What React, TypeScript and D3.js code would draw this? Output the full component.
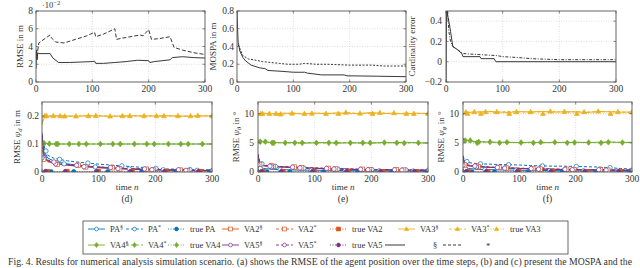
import React from "react";
import * as d3 from "d3";

const xTicks = [0, 100, 200, 300];

// (a) RMSE of the agent position (values in m)
const aSolidT = [0, 1, 2, 3, 5, 25, 30, 40, 60, 80, 100, 104, 106, 120, 140, 160, 180, 200, 202, 210, 238, 242, 260, 280, 300];
const aSolidV = [0.015, 0.036, 0.025, 0.033, 0.032, 0.032, 0.027, 0.022, 0.022, 0.0225, 0.023, 0.0235, 0.021, 0.021, 0.022, 0.023, 0.0245, 0.024, 0.022, 0.023, 0.025, 0.0275, 0.0285, 0.0275, 0.027];
const aDashT = [3, 5, 25, 27, 35, 50, 70, 90, 104, 106, 120, 140, 143, 150, 185, 190, 200, 205, 220, 238, 245, 260, 280, 300];
const aDashV = [0.035, 0.044, 0.053, 0.05, 0.045, 0.044, 0.048, 0.052, 0.056, 0.051, 0.054, 0.06, 0.048, 0.049, 0.053, 0.052, 0.059, 0.048, 0.049, 0.051, 0.039, 0.036, 0.033, 0.031];
const aYTicks = [0, 0.02, 0.04, 0.06, 0.08];

// (b) MOSPA
const bSolidT = [0, 1, 2, 3, 5, 10, 15, 25, 40, 50, 55, 80, 100, 120, 125, 150, 190, 195, 250, 300];
const bSolidV = [0.8, 0.6, 0.45, 0.42, 0.35, 0.28, 0.24, 0.19, 0.16, 0.15, 0.13, 0.12, 0.11, 0.11, 0.1, 0.08, 0.08, 0.07, 0.065, 0.06];
const bDashT = [2, 5, 10, 20, 30, 45, 60, 75, 90, 110, 120, 140, 160, 200, 240, 260, 300];
const bDashV = [0.42, 0.38, 0.3, 0.26, 0.25, 0.23, 0.22, 0.21, 0.2, 0.2, 0.21, 0.2, 0.2, 0.19, 0.19, 0.18, 0.18];
const bYTicks = [0, 0.2, 0.4, 0.6, 0.8];

// (c) cardinality error
const cSolidT = [0, 1, 2, 3, 5, 8, 12, 20, 28, 30, 60, 62, 70, 85, 88, 300];
const cSolidV = [-0.2, 0.5, 0.5, 0.45, 0.4, 0.3, 0.15, 0.12, 0.08, 0.05, 0.05, 0.03, 0.03, 0.03, 0, 0];
const cDashT = [3, 5, 8, 12, 20, 30, 60, 90, 100, 130, 150, 200, 250, 300];
const cDashV = [0.5, 0.3, 0.2, 0.15, 0.12, 0.08, 0.07, 0.06, 0.05, 0.04, 0.03, 0.02, 0.02, 0.02];
const cYTicks = [-0.2, 0, 0.2, 0.4];

// shared time grid for (d)-(f)
const T = [0, 3, 6, 10, 20, 30, 45, 60, 80, 100, 120, 140, 160, 180, 200, 220, 240, 260, 280, 300];

// (d) RMSE psi_d in m
const dPAs = [0.12, 0.09, 0.065, 0.05, 0.04, 0.034, 0.029, 0.025, 0.021, 0.018, 0.015, 0.013, 0.011, 0.01, 0.009, 0.008, 0.007, 0.006, 0.006, 0.005];
const dPAa = [0.13, 0.1, 0.075, 0.06, 0.05, 0.045, 0.04, 0.036, 0.032, 0.028, 0.025, 0.022, 0.019, 0.016, 0.013, 0.011, 0.01, 0.009, 0.008, 0.008];
const dPAt = [0.003, 0.002, 0.001, 0.001, 0.001, 0.001, 0.001, 0.001, 0.001, 0.001, 0.001, 0.001, 0.001, 0.001, 0.001, 0.001, 0.001, 0.001, 0.001, 0.001];
const dVA2s = [0.08, 0.06, 0.045, 0.037, 0.031, 0.027, 0.024, 0.021, 0.018, 0.015, 0.013, 0.011, 0.009, 0.008, 0.007, 0.006, 0.006, 0.005, 0.005, 0.004];
const dVA2a = [0.09, 0.065, 0.05, 0.04, 0.034, 0.03, 0.027, 0.024, 0.02, 0.017, 0.015, 0.013, 0.011, 0.01, 0.009, 0.008, 0.007, 0.006, 0.006, 0.005];
const dVA2t = [0.01, 0.005, 0.003, 0.002, 0.002, 0.002, 0.002, 0.002, 0.002, 0.002, 0.002, 0.002, 0.002, 0.002, 0.002, 0.002, 0.002, 0.002, 0.002, 0.002];
const dVA3s = [0.17, 0.19, 0.196, 0.199, 0.2, 0.201, 0.2, 0.199, 0.201, 0.2, 0.199, 0.2, 0.201, 0.2, 0.2, 0.201, 0.2, 0.199, 0.2, 0.2];
const dVA3a = [0.18, 0.195, 0.198, 0.2, 0.201, 0.2, 0.199, 0.2, 0.2, 0.201, 0.2, 0.199, 0.2, 0.201, 0.2, 0.2, 0.199, 0.2, 0.201, 0.2];
const dVA3t = [0.2, 0.2, 0.2, 0.2, 0.2, 0.2, 0.2, 0.2, 0.2, 0.2, 0.2, 0.2, 0.2, 0.2, 0.2, 0.2, 0.2, 0.2, 0.2, 0.2];
const dVA4s = [0.11, 0.108, 0.104, 0.101, 0.1, 0.1, 0.1, 0.1, 0.1, 0.1, 0.1, 0.1, 0.1, 0.1, 0.1, 0.1, 0.1, 0.1, 0.1, 0.1];
const dVA4a = [0.105, 0.104, 0.102, 0.1, 0.1, 0.1, 0.1, 0.1, 0.1, 0.1, 0.1, 0.1, 0.1, 0.1, 0.1, 0.1, 0.1, 0.1, 0.1, 0.1];
const dVA4t = [0.1, 0.1, 0.1, 0.1, 0.1, 0.1, 0.1, 0.1, 0.1, 0.1, 0.1, 0.1, 0.1, 0.1, 0.1, 0.1, 0.1, 0.1, 0.1, 0.1];
const dVA5s = [0.14, 0.07, 0.05, 0.04, 0.033, 0.029, 0.025, 0.022, 0.019, 0.016, 0.014, 0.012, 0.01, 0.009, 0.008, 0.007, 0.006, 0.006, 0.005, 0.005];
const dVA5a = [0.13, 0.075, 0.055, 0.043, 0.036, 0.031, 0.027, 0.024, 0.021, 0.018, 0.016, 0.014, 0.012, 0.011, 0.01, 0.009, 0.008, 0.007, 0.006, 0.006];
const dVA5t = [0.004, 0.002, 0.001, 0.001, 0.001, 0.001, 0.001, 0.001, 0.001, 0.001, 0.001, 0.001, 0.001, 0.001, 0.001, 0.001, 0.001, 0.001, 0.001, 0.001];
const dYTicks = [0, 0.1, 0.2];

// (e) RMSE psi_theta in deg
const ePAs = [2.5, 1.2, 0.8, 0.6, 0.5, 0.45, 0.4, 0.35, 0.32, 0.3, 0.28, 0.26, 0.24, 0.22, 0.2, 0.2, 0.18, 0.17, 0.16, 0.15];
const ePAa = [3.0, 1.8, 1.4, 1.2, 1.05, 0.95, 0.85, 0.75, 0.65, 0.6, 0.55, 0.5, 0.47, 0.44, 0.42, 0.4, 0.38, 0.36, 0.35, 0.33];
const ePAt = [0.2, 0.1, 0.05, 0.03, 0.02, 0.02, 0.02, 0.02, 0.02, 0.02, 0.02, 0.02, 0.02, 0.02, 0.02, 0.02, 0.02, 0.02, 0.02, 0.02];
const eVA2s = [2.8, 1.6, 1.3, 1.1, 1.0, 0.95, 0.88, 0.8, 0.72, 0.65, 0.58, 0.52, 0.47, 0.42, 0.4, 0.37, 0.35, 0.33, 0.31, 0.3];
const eVA2a = [3.0, 1.7, 1.4, 1.2, 1.05, 1.0, 0.92, 0.85, 0.77, 0.7, 0.63, 0.57, 0.52, 0.47, 0.44, 0.41, 0.39, 0.37, 0.35, 0.34];
const eVA2t = [0.3, 0.15, 0.1, 0.08, 0.06, 0.05, 0.05, 0.05, 0.05, 0.05, 0.05, 0.05, 0.05, 0.05, 0.05, 0.05, 0.05, 0.05, 0.05, 0.05];
const eVA3s = [9.8, 9.9, 10.0, 10.1, 10.0, 9.95, 10.1, 10.05, 9.95, 10.1, 10.0, 10.15, 10.0, 10.05, 10.2, 10.0, 10.1, 9.95, 10.1, 10.0];
const eVA3a = [9.9, 10.0, 10.05, 9.95, 10.1, 10.0, 9.9, 10.15, 10.0, 10.05, 10.1, 9.95, 10.2, 10.0, 10.05, 10.15, 9.95, 10.1, 10.0, 10.1];
const eVA3t = [10, 10, 10, 10, 10, 10, 10, 10, 10, 10, 10, 10, 10, 10, 10, 10, 10, 10, 10, 10];
const eVA4s = [5.5, 5.4, 5.3, 5.2, 5.1, 5.05, 5.0, 5.05, 4.95, 5.0, 5.05, 4.95, 5.0, 5.0, 4.95, 5.05, 5.0, 5.1, 5.0, 4.95];
const eVA4a = [5.3, 5.25, 5.2, 5.1, 5.05, 5.0, 5.05, 4.95, 5.0, 5.05, 4.95, 5.0, 5.05, 4.95, 5.0, 5.0, 5.05, 4.95, 5.05, 5.0];
const eVA4t = [5, 5, 5, 5, 5, 5, 5, 5, 5, 5, 5, 5, 5, 5, 5, 5, 5, 5, 5, 5];
const eVA5s = [2.9, 1.5, 1.25, 1.05, 0.95, 0.9, 0.84, 0.78, 0.7, 0.63, 0.57, 0.51, 0.46, 0.42, 0.39, 0.36, 0.34, 0.32, 0.3, 0.29];
const eVA5a = [3.1, 1.65, 1.35, 1.15, 1.0, 0.97, 0.9, 0.83, 0.75, 0.68, 0.62, 0.56, 0.51, 0.46, 0.43, 0.4, 0.38, 0.36, 0.34, 0.33];
const eVA5t = [0.2, 0.1, 0.06, 0.05, 0.04, 0.04, 0.04, 0.04, 0.04, 0.04, 0.04, 0.04, 0.04, 0.04, 0.04, 0.04, 0.04, 0.04, 0.04, 0.04];
const eYTicks = [0, 5, 10];

// (f) RMSE psi_phi in deg
const fPAs = [2.6, 1.0, 0.8, 0.6, 0.5, 0.45, 0.4, 0.37, 0.34, 0.3, 0.28, 0.26, 0.24, 0.22, 0.2, 0.2, 0.18, 0.17, 0.16, 0.15];
const fPAa = [2.8, 2.0, 1.8, 1.6, 1.5, 1.4, 1.35, 1.3, 1.25, 1.2, 1.1, 1.05, 1.0, 1.0, 0.95, 0.9, 0.85, 0.75, 0.6, 0.5];
const fPAt = [0.2, 0.1, 0.05, 0.03, 0.02, 0.02, 0.02, 0.02, 0.02, 0.02, 0.02, 0.02, 0.02, 0.02, 0.02, 0.02, 0.02, 0.02, 0.02, 0.02];
const fVA2s = [2.5, 1.4, 1.2, 1.1, 1.0, 0.9, 0.82, 0.75, 0.68, 0.6, 0.55, 0.5, 0.46, 0.43, 0.4, 0.37, 0.35, 0.33, 0.31, 0.3];
const fVA2a = [2.7, 1.5, 1.3, 1.2, 1.05, 0.95, 0.87, 0.8, 0.72, 0.65, 0.6, 0.55, 0.5, 0.47, 0.44, 0.41, 0.39, 0.37, 0.35, 0.34];
const fVA2t = [0.3, 0.15, 0.1, 0.08, 0.06, 0.05, 0.05, 0.05, 0.05, 0.05, 0.05, 0.05, 0.05, 0.05, 0.05, 0.05, 0.05, 0.05, 0.05, 0.05];
const fVA3s = [9.8, 10.0, 10.1, 10.2, 10.3, 10.25, 10.4, 10.3, 10.2, 10.35, 10.3, 10.4, 10.25, 10.35, 10.3, 10.2, 10.4, 10.3, 10.25, 10.3];
const fVA3a = [9.9, 10.1, 10.2, 10.25, 10.2, 10.35, 10.3, 10.2, 10.4, 10.3, 10.25, 10.3, 10.4, 10.2, 10.35, 10.3, 10.25, 10.4, 10.3, 10.2];
const fVA3t = [10, 10, 10, 10, 10, 10, 10, 10, 10, 10, 10, 10, 10, 10, 10, 10, 10, 10, 10, 10];
const fVA4s = [5.8, 5.6, 5.5, 5.4, 5.25, 5.2, 5.15, 5.1, 5.1, 5.05, 5.1, 5.0, 5.1, 5.05, 5.1, 5.05, 5.1, 5.15, 5.05, 5.1];
const fVA4a = [5.6, 5.5, 5.4, 5.3, 5.2, 5.15, 5.1, 5.05, 5.1, 5.0, 5.05, 5.1, 5.0, 5.1, 5.05, 5.1, 5.0, 5.1, 5.1, 5.05];
const fVA4t = [5, 5, 5, 5, 5, 5, 5, 5, 5, 5, 5, 5, 5, 5, 5, 5, 5, 5, 5, 5];
const fVA5s = [2.6, 1.3, 1.15, 1.05, 0.95, 0.88, 0.8, 0.73, 0.66, 0.6, 0.54, 0.49, 0.45, 0.42, 0.39, 0.36, 0.34, 0.32, 0.3, 0.29];
const fVA5a = [2.8, 1.45, 1.25, 1.15, 1.02, 0.93, 0.86, 0.78, 0.7, 0.64, 0.58, 0.53, 0.49, 0.46, 0.43, 0.4, 0.38, 0.36, 0.34, 0.33];
const fVA5t = [0.2, 0.1, 0.06, 0.05, 0.04, 0.04, 0.04, 0.04, 0.04, 0.04, 0.04, 0.04, 0.04, 0.04, 0.04, 0.04, 0.04, 0.04, 0.04, 0.04];
const fYTicks = [0, 5, 10];

const entities = ["PA", "VA2", "VA3", "VA4", "VA5"];
const variants = ["§", "*", "true"];
const COLORS: any = { PA: "#0072BD", VA2: "#D95319", VA3: "#EDB120", VA4: "#77AC30", VA5: "#7E2F8E" };
const SHAPES: any = { PA: "circle", VA2: "square", VA3: "triangle", VA4: "diamond", VA5: "circle" };
const DASH: any = { "§": null, "*": "3,2", true: "1,1.5" };

const FONT = "'Liberation Serif', 'DejaVu Serif', serif";
const INK = "#333";

function Marker({ shape, x, y, color, filled, r = 2.2 }: any) {
  const fill = filled ? color : "#fff";
  const common = { stroke: color, strokeWidth: 0.7, fill };
  if (shape === "circle") return <circle cx={x} cy={y} r={r} {...common} />;
  if (shape === "square") return <rect x={x - r} y={y - r} width={2 * r} height={2 * r} {...common} />;
  if (shape === "triangle")
    return <path d={`M${x},${y - r * 1.2}L${x + r * 1.1},${y + r * 0.8}L${x - r * 1.1},${y + r * 0.8}Z`} {...common} />;
  return <path d={`M${x},${y - r * 1.3}L${x + r},${y}L${x},${y + r * 1.3}L${x - r},${y}Z`} {...common} />;
}

function buildSeries(rows: any) {
  const out: any[] = [];
  entities.forEach((e, ei) => {
    variants.forEach((v, vi) => {
      out.push({
        t: T,
        v: rows[e][vi],
        color: COLORS[e],
        shape: SHAPES[e],
        dash: DASH[v],
        variant: v,
        phase: ei,
        opacity: v === "true" ? 0.55 : 1,
      });
    });
  });
  return out;
}

function Panel(props: any) {
  const { id, x0, x1, y0, y1, yDomain, yTicks, yFmt, lines, colored, ylabel, ylabelX, tickRight, xlabel, tag, exponent } = props;
  const x = d3.scaleLinear().domain([0, 300]).range([x0, x1]);
  const y = d3.scaleLinear().domain(yDomain).range([y1, y0]);
  const line = d3
    .line<[number, number]>()
    .x((d) => x(d[0]))
    .y((d) => y(d[1]));
  const cy = (y0 + y1) / 2;
  return (
    <g>
      <defs>
        <clipPath id={id}>
          <rect x={x0} y={y0} width={x1 - x0} height={y1 - y0} />
        </clipPath>
      </defs>
      <rect x={x0} y={y0} width={x1 - x0} height={y1 - y0} fill="#fff" />
      {xTicks.slice(1, -1).map((t) => (
        <line key={"gx" + t} x1={x(t)} x2={x(t)} y1={y0} y2={y1} stroke="#c8c8c8" strokeWidth={0.6} strokeDasharray="1,1.5" />
      ))}
      {yTicks
        .filter((t: number) => y(t) > y0 + 1 && y(t) < y1 - 1)
        .map((t: number) => (
          <line key={"gy" + t} x1={x0} x2={x1} y1={y(t)} y2={y(t)} stroke="#c8c8c8" strokeWidth={0.6} strokeDasharray="1,1.5" />
        ))}
      <g clipPath={`url(#${id})`}>
        {lines &&
          lines.map((s: any, i: number) => (
            <path
              key={"l" + i}
              d={line(s.t.map((t: number, k: number) => [t, s.v[k]]) as any) || ""}
              fill="none"
              stroke={s.color}
              strokeWidth={s.width || 0.9}
              strokeDasharray={s.dash || undefined}
            />
          ))}
        {colored &&
          colored.map((s: any, i: number) => (
            <path
              key={"c" + i}
              d={line(s.t.map((t: number, k: number) => [t, s.v[k]]) as any) || ""}
              fill="none"
              stroke={s.color}
              strokeOpacity={s.opacity}
              strokeWidth={s.variant === "true" ? 0.8 : 1}
              strokeDasharray={s.dash || undefined}
            />
          ))}
        {colored &&
          colored.map((s: any, i: number) =>
            s.t.map((t: number, k: number) => {
              const vi = variants.indexOf(s.variant);
              if (k < 2 || (k + vi + s.phase) % 3 !== 0) return null;
              return (
                <Marker
                  key={"m" + i + "-" + k}
                  shape={s.shape}
                  x={x(t + ((vi * 7 + s.phase * 3) % 12) - 6)}
                  y={y(s.v[k])}
                  color={s.color}
                  filled={s.variant === "true" || s.shape === "triangle" || s.shape === "diamond"}
                />
              );
            })
          )}
      </g>
      <rect x={x0} y={y0} width={x1 - x0} height={y1 - y0} fill="none" stroke="#555" strokeWidth={0.9} />
      {xTicks.map((t) => (
        <g key={"xt" + t}>
          <line x1={x(t)} x2={x(t)} y1={y1} y2={y1 - 2.5} stroke="#555" strokeWidth={0.7} />
          <line x1={x(t)} x2={x(t)} y1={y0} y2={y0 + 2.5} stroke="#555" strokeWidth={0.7} />
          <text x={x(t)} y={y1 + 10} textAnchor="middle" fontSize={9.5} fill={INK}>
            {t}
          </text>
        </g>
      ))}
      {yTicks.map((t: number) => (
        <g key={"yt" + t}>
          <line x1={x0} x2={x0 + 2.5} y1={y(t)} y2={y(t)} stroke="#555" strokeWidth={0.7} />
          <line x1={x1} x2={x1 - 2.5} y1={y(t)} y2={y(t)} stroke="#555" strokeWidth={0.7} />
          <text x={tickRight} y={y(t) + 3.2} textAnchor="end" fontSize={9.5} fill={INK}>
            {yFmt(t)}
          </text>
        </g>
      ))}
      <text transform={`translate(${ylabelX},${cy}) rotate(-90)`} textAnchor="middle" fontSize={9} fill={INK}>
        {ylabel}
      </text>
      {exponent && (
        <text x={x0 + 6} y={y0 - 3} fontSize={8.5} fill={INK}>
          ·10<tspan dy={-3} fontSize={6.5}>−2</tspan>
        </text>
      )}
      {xlabel && (
        <text x={(x0 + x1) / 2} y={y1 + 18} textAnchor="middle" fontSize={9} fill={INK}>
          time <tspan fontStyle="italic">n</tspan>
        </text>
      )}
      {tag && (
        <text x={(x0 + x1) / 2} y={y1 + 30} textAnchor="middle" fontSize={9.5} fill={INK}>
          {tag}
        </text>
      )}
    </g>
  );
}

function PsiLabel({ sub, unit }: any) {
  return (
    <>
      RMSE <tspan fontStyle="italic">ψ</tspan>
      <tspan fontStyle="italic" fontSize={6.5} dy={2}>
        {sub}
      </tspan>
      <tspan dy={-2}> in {unit}</tspan>
    </>
  );
}

function LegendItem({ x, y, color, dash, shape, filled, label, sup, w = 17 }: any) {
  return (
    <g>
      <line x1={x} x2={x + w} y1={y} y2={y} stroke={color} strokeWidth={0.9} strokeDasharray={dash || undefined} />
      {shape && <Marker shape={shape} x={x + w / 2} y={y} color={color} filled={filled} r={1.9} />}
      {label && (
        <text x={x + w + 5} y={y + 3} fontSize={8.5} fill={INK}>
          {label}
          {sup && (
            <tspan dy={-3} fontSize={6}>
              {sup}
            </tspan>
          )}
        </text>
      )}
    </g>
  );
}

export default function App() {
  const blk = "#222";
  const dRows = {
    PA: [dPAs, dPAa, dPAt], VA2: [dVA2s, dVA2a, dVA2t], VA3: [dVA3s, dVA3a, dVA3t], VA4: [dVA4s, dVA4a, dVA4t], VA5: [dVA5s, dVA5a, dVA5t],
  };
  const eRows = {
    PA: [ePAs, ePAa, ePAt], VA2: [eVA2s, eVA2a, eVA2t], VA3: [eVA3s, eVA3a, eVA3t], VA4: [eVA4s, eVA4a, eVA4t], VA5: [eVA5s, eVA5a, eVA5t],
  };
  const fRows = {
    PA: [fPAs, fPAa, fPAt], VA2: [fVA2s, fVA2a, fVA2t], VA3: [fVA3s, fVA3a, fVA3t], VA4: [fVA4s, fVA4a, fVA4t], VA5: [fVA5s, fVA5a, fVA5t],
  };

  const colX = [88, 126, 168, 222, 276, 330, 398, 449, 488];
  const row1 = [
    ["PA", "§"], ["PA", "*"], ["PA", "true"], ["VA2", "§"], ["VA2", "*"], ["VA2", "true"], ["VA3", "§"], ["VA3", "*"], ["VA3", "true"],
  ];
  const row2 = [["VA4", "§"], ["VA4", "*"], ["VA4", "true"], ["VA5", "§"], ["VA5", "*"], ["VA5", "true"]];
  const legItem = (e: string, v: string, i: number, yy: number) => (
    <LegendItem
      key={e + v}
      x={colX[i]}
      y={yy}
      color={COLORS[e]}
      dash={DASH[v]}
      shape={SHAPES[e]}
      filled={v === "true" || SHAPES[e] === "triangle" || SHAPES[e] === "diamond"}
      label={v === "true" ? `true ${e}` : e}
      sup={v === "true" ? null : v}
    />
  );

  return (
    <div style={{ position: "fixed", left: 0, top: 0 }}>
      <svg width={640} height={268} fontFamily={FONT} style={{ display: "block", background: "#fff" }}>
        <Panel
          id="pa" x0={36} x1={205} y0={11} y1={82} yDomain={[0, 0.08]} yTicks={aYTicks}
          yFmt={(t: number) => d3.format("d")(Math.round(t * 100))} tickRight={33}
          ylabel="RMSE in m" ylabelX={23} exponent
          lines={[
            { t: aDashT, v: aDashV, color: blk, dash: "4,2" },
            { t: aSolidT, v: aSolidV, color: blk },
          ]}
        />
        <Panel
          id="pb" x0={237} x1={406} y0={11} y1={82} yDomain={[0, 0.8]} yTicks={bYTicks}
          yFmt={(t: number) => (t === 0 ? "0" : d3.format(".1f")(t))} tickRight={234}
          ylabel="MOSPA in m" ylabelX={216}
          lines={[
            { t: bDashT, v: bDashV, color: blk, dash: "2,1.5" },
            { t: bSolidT, v: bSolidV, color: blk },
          ]}
        />
        <Panel
          id="pc" x0={446} x1={616} y0={11} y1={82} yDomain={[-0.2, 0.5]} yTicks={cYTicks}
          yFmt={(t: number) => (t === 0 ? "0" : d3.format(".1f")(t).replace("-", "−"))} tickRight={442}
          ylabel="Cardinality error" ylabelX={415}
          lines={[
            { t: cDashT, v: cDashV, color: blk, dash: "3,1.5,1,1.5" },
            { t: cSolidT, v: cSolidV, color: blk },
          ]}
        />
        <Panel
          id="pd" x0={42} x1={212} y0={102} y1={172} yDomain={[0, 0.25]} yTicks={dYTicks}
          yFmt={(t: number) => (t === 0 ? "0" : d3.format(".1f")(t))} tickRight={39}
          ylabel={<PsiLabel sub="d" unit="m" />} ylabelX={20} xlabel tag="(d)"
          colored={buildSeries(dRows)}
        />
        <Panel
          id="pe" x0={258} x1={428} y0={102} y1={172} yDomain={[0, 12]} yTicks={eYTicks}
          yFmt={(t: number) => String(t)} tickRight={254}
          ylabel={<PsiLabel sub="θ" unit="°" />} ylabelX={239} xlabel tag="(e)"
          colored={buildSeries(eRows)}
        />
        <Panel
          id="pf" x0={463} x1={632} y0={102} y1={172} yDomain={[0, 12]} yTicks={fYTicks}
          yFmt={(t: number) => String(t)} tickRight={459}
          ylabel={<PsiLabel sub="φ" unit="°" />} ylabelX={444} xlabel tag="(f)"
          colored={buildSeries(fRows)}
        />

        <rect x={83} y={221} width={485} height={33} fill="#fff" stroke="#444" strokeWidth={0.8} />
        {row1.map(([e, v], i) => legItem(e, v, i, 229))}
        {row2.map(([e, v], i) => legItem(e, v, i, 245))}
        <LegendItem x={385} y={245} color={blk} w={20} />
        <text x={433} y={248} fontSize={8.5} fill={INK}>§</text>
        <LegendItem x={443} y={245} color={blk} dash="3,2" w={18} />
        <text x={486} y={249} fontSize={8.5} fill={INK}>*</text>

        <text x={8} y={265} fontSize={9.5} fill={INK} textLength={624} lengthAdjust="spacingAndGlyphs">
          Fig. 4.{"   "}Results for numerical analysis simulation scenario. (a) shows the RMSE of the agent position over the time steps, (b) and (c) present the MOSPA and the
        </text>
      </svg>
    </div>
  );
}
